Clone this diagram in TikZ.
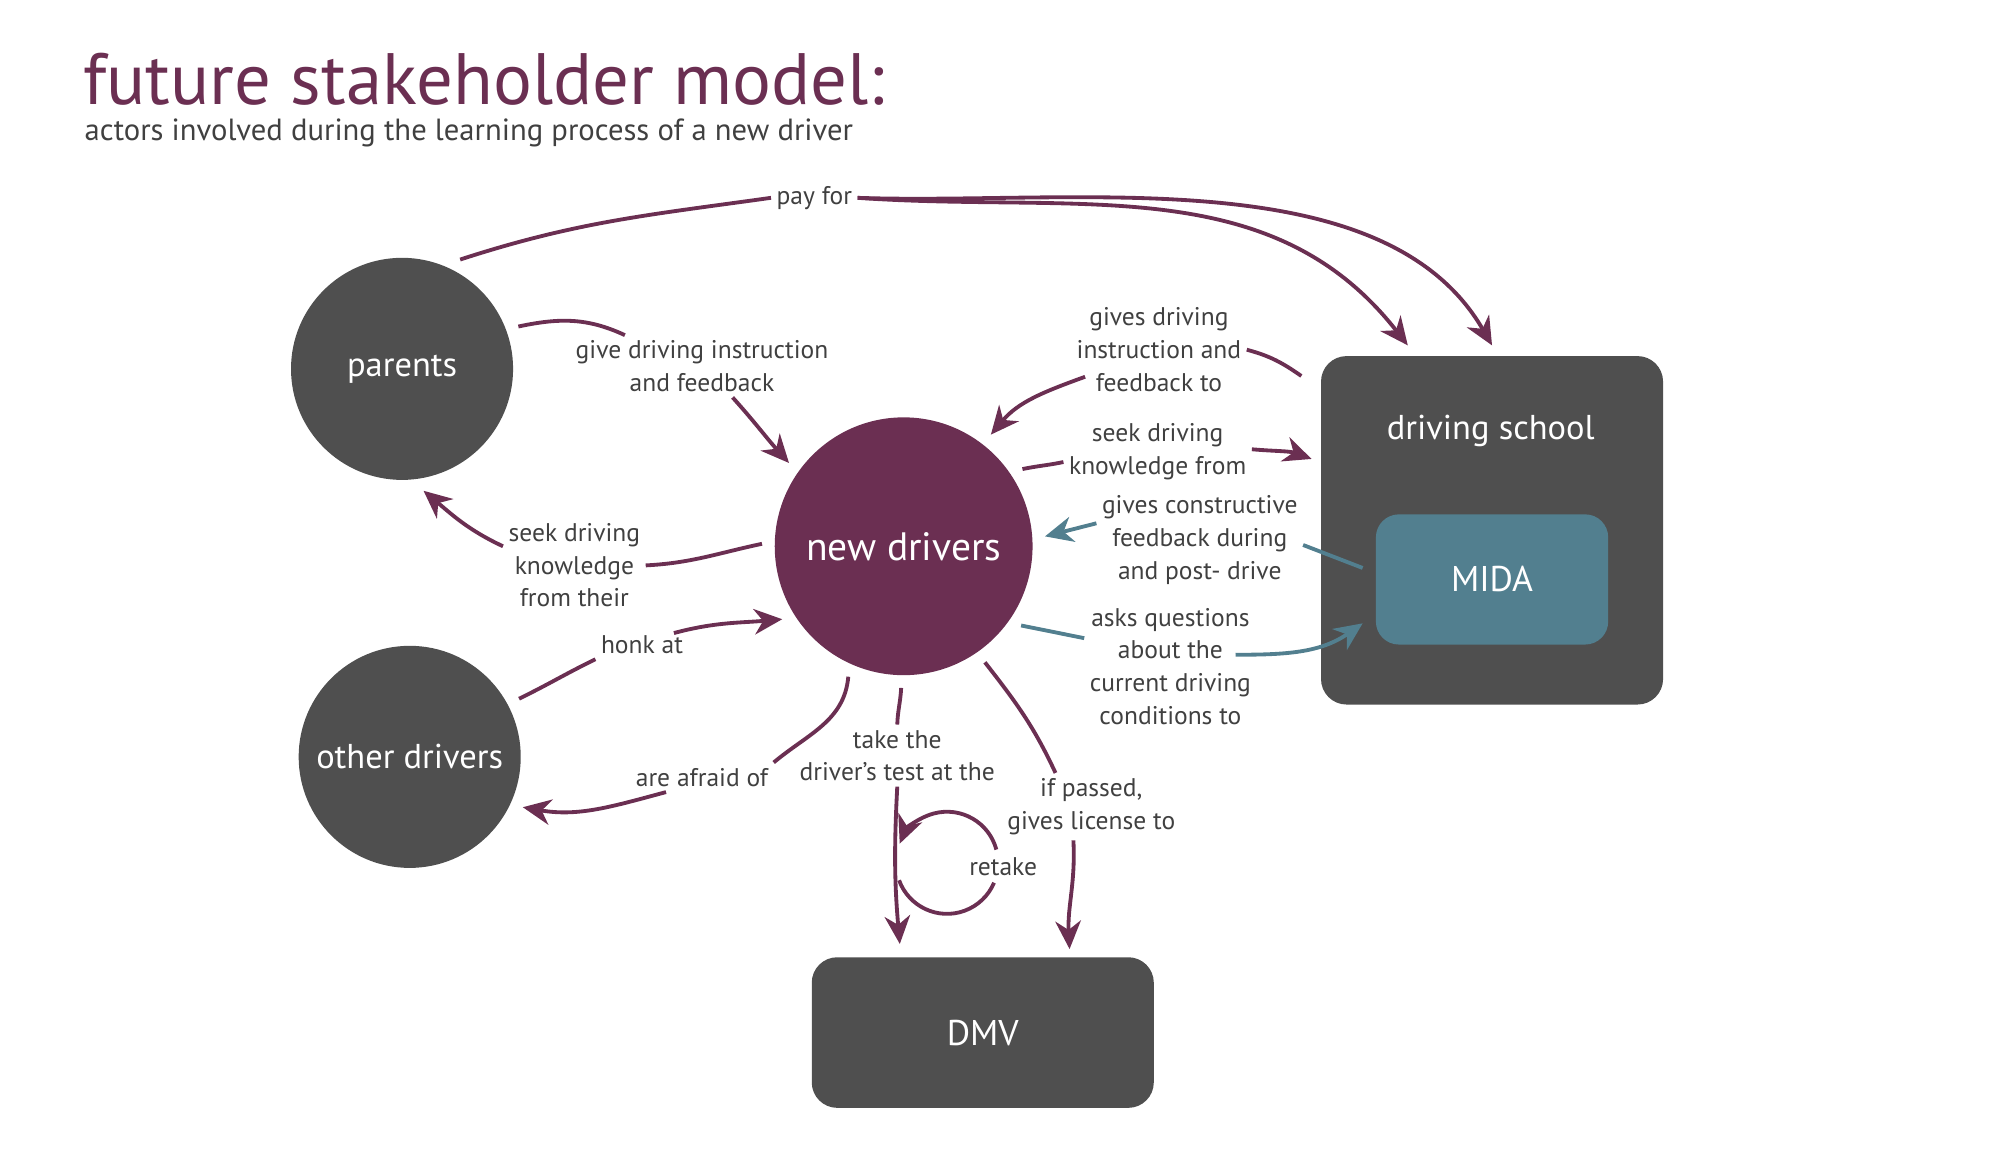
\documentclass[tikz,border=0pt]{standalone}
\usepackage{fontspec}
\setmainfont{PT Sans}
\usetikzlibrary{arrows.meta}
\definecolor{plum}{HTML}{6B2F52}
\definecolor{slate}{HTML}{4F4F4F}
\definecolor{midablue}{HTML}{527F8F}
\definecolor{ink}{HTML}{404040}
\tikzstyle{actor}=[circle,fill=slate,text=white,font=\fontsize{13.5}{16}\selectfont,inner sep=0pt,outer sep=5pt]
\tikzstyle{place}=[rectangle,rounded corners=10pt,fill=slate,text=white,font=\fontsize{14}{16}\selectfont,inner sep=0pt]
\tikzstyle{says}=[text=ink,align=center,font=\fontsize{10}{12.8}\selectfont,inner sep=2pt]
\tikzstyle{rel}=[plum,line width=1.5pt]
\tikzstyle{relto}=[rel,-{Stealth[length=11pt,width=10pt,inset=3.5pt]}]

\begin{document}
\begin{tikzpicture}[x=0.5pt,y=0.5pt]
  \useasboundingbox (0,0) rectangle (1567,-914);

  \node[anchor=base west,plum,font=\fontsize{28.5}{30}\selectfont,inner sep=0pt] (title) at (65,-82) {future stakeholder model:};
  \node[anchor=base west,ink,font=\fontsize{12}{14}\selectfont,inner sep=0pt] (subtitle) at (66,-110) {actors involved during the learning process of a new driver};

  % actors
  \node[actor,minimum size=87pt] (parents) at (315,-289) {parents};
  \node[actor,minimum size=87pt] (others)  at (321,-593) {other drivers};
  \node[actor,minimum size=101pt,fill=plum,font=\fontsize{15.5}{18}\selectfont] (newdrv) at (708,-428) {new drivers};
  \node[place,minimum width=134pt,minimum height=136.5pt] (school) at (1169,-415.5) {};
  \node[white,font=\fontsize{13.5}{16}\selectfont] (schooltxt) at (1168,-338) {driving school};
  \node[place,minimum width=91pt,minimum height=51pt,rounded corners=9pt,fill=midablue] (mida) at (1169,-454) {MIDA};
  \node[place,minimum width=134pt,minimum height=59pt] (dmv) at (770,-809) {DMV};

  % labels
  \node[says] (payfor)   at (638,-155) {pay for};
  \node[says] (givefb)   at (550,-287) {give driving instruction\\and feedback};
  \node[says] (seekpar)  at (450,-443) {seek driving\\knowledge\\from their};
  \node[says] (honk)     at (503,-505) {honk at};
  \node[says] (afraid)   at (550,-609) {are afraid of};
  \node[says] (taketest) at (703,-592) {take the\\driver’s test at the};
  \node[says] (retake)   at (786,-679) {retake};
  \node[says] (passed)   at (855,-632) {if passed,\\gives license to};
  \node[says] (givesto)  at (908,-274) {gives driving\\instruction and\\feedback to};
  \node[says] (seekfrom) at (907,-354) {seek driving\\knowledge from};
  \node[says] (feedback) at (940,-423) {gives constructive\\feedback during\\and post- drive};
  \node[says] (asks)     at (917,-522) {asks questions\\about the\\current driving\\conditions to};

  % end points
  \coordinate (ds1) at ([xshift=-33pt,yshift=4pt]school.north);
  \coordinate (ds2) at ([yshift=4pt]school.north);
  \coordinate (ds3) at ([xshift=-3.5pt,yshift=-40.5pt]school.north west);
  \coordinate (ds4) at ([xshift=-7.5pt,yshift=-8pt]school.north west);
  \coordinate (gA)  at (givefb.158);
  \coordinate (gB)  at ([xshift=12pt]givefb.south);
  \coordinate (sp1) at ([yshift=7.5pt]seekpar.west);
  \coordinate (hk1) at ([xshift=12.5pt,yshift=4.5pt]honk.center);
  \coordinate (af1) at ([xshift=14pt]afraid.south west);
  \coordinate (dt1) at ([xshift=-32.5pt,yshift=5pt]dmv.north);
  \coordinate (dt2) at ([xshift=34pt,yshift=3pt]dmv.north);
  \coordinate (ps1) at ([xshift=-14pt]passed.north);
  \coordinate (ps2) at ([xshift=-7pt]passed.south);
  \coordinate (gv1) at ([xshift=5.5pt,yshift=8pt]givesto.south west);
  \coordinate (sk1) at ([yshift=-4pt]seekfrom.west);
  \coordinate (sk2) at ([yshift=1pt]seekfrom.east);
  \coordinate (md1) at ([xshift=-5pt,yshift=4.5pt]mida.west);
  \coordinate (md2) at ([xshift=-5pt,yshift=8.5pt]mida.south west);
  \coordinate (fb1) at ([yshift=-2pt]feedback.east);
  \coordinate (fb2) at ([yshift=6.5pt]feedback.west);
  \coordinate (ak1) at ([yshift=-14pt]asks.north west);
  \coordinate (ak2) at ([xshift=25.5pt,yshift=4.5pt]asks.center);
  \coordinate (spin) at (742,-676);

  \foreach \from/\to/\o/\i in {parents.62/payfor.west/18/188, parents.20/gA/12/155,
            newdrv.179/seekpar.east/192/3, others.28/honk.south west/26/206,
            newdrv.-113/afraid.north east/-95/40, newdrv.-91/taketest.north/-93/88,
            newdrv.-55/ps1/-52/115, givesto.east/ds4/-15/145, newdrv.33/sk1/12/192}
  \draw[rel] (\from) to[out=\o,in=\i] (\to);
  \foreach \from/\to/\o/\i in {payfor.east/ds1/-4/128, gB/newdrv.144/-48/132,
            sp1/parents.-80/155/-40, hk1/newdrv.211/15/185, af1/others.-24/195/-10,
            taketest.south/dt1/-93/95, ps2/dt2/-87/93, gv1/newdrv.52/200/50,
            sk2/ds3/-5/160}
  \draw[relto] (\from) to[out=\o,in=\i] (\to);
  \draw[relto] (payfor.east) to[out=-2,in=120,looseness=0.85] (ds2);

  % MIDA talks back
  \draw[rel,midablue] (md1) -- (fb1);
  \draw[relto,midablue] (fb2) -- (newdrv.4);
  \draw[rel,midablue] (newdrv.-34) -- (ak1);
  \draw[relto,midablue] (ak2) to[out=0,in=215] (md2);

  % retake loop
  \draw[rel] ([shift={(200:20pt)}]spin) arc (200:337:20pt);
  \draw[relto] ([shift={(15:20pt)}]spin) arc (15:158:20pt);
\end{tikzpicture}
\end{document}
